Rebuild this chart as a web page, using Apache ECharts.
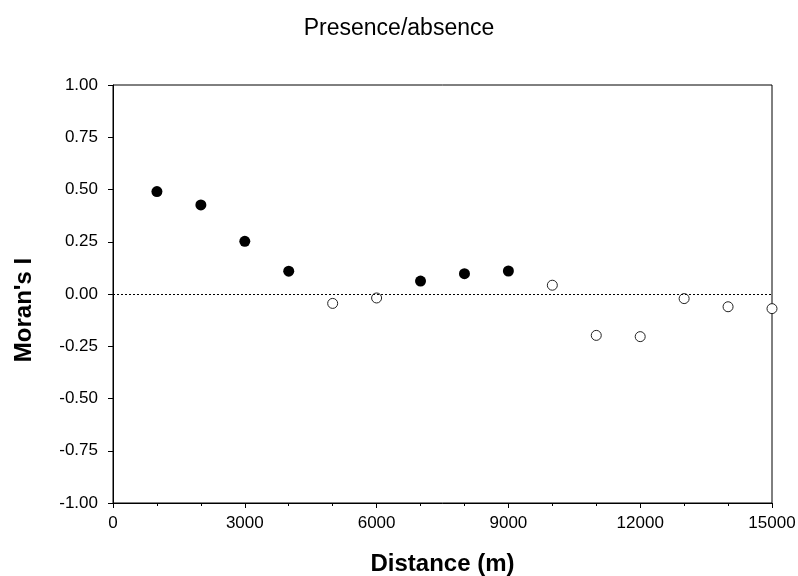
<!DOCTYPE html>
<html>
<head>
<meta charset="utf-8">
<script src="https://cdn.jsdelivr.net/npm/echarts@6/dist/echarts.min.js"></script>
<style>
  html, body { margin: 0; padding: 0; background: #fff; }
  #chart { width: 798px; height: 576px; }
</style>
</head>
<body>
<div id="chart"></div>
<script>
// 数据：距离 (m) 与 Moran's I
const distances = [1000, 2000, 3000, 4000, 5000, 6000, 7000, 8000, 9000, 10000, 11000, 12000, 13000, 14000, 15000];
const moranI = [0.490, 0.426, 0.252, 0.109, -0.045, -0.019, 0.062, 0.097, 0.110, 0.042, -0.198, -0.204, -0.022, -0.061, -0.070];
// true = 实心点（显著），false = 空心点
const significant = [true, true, true, true, false, false, true, true, true, false, false, false, false, false, false];
const xTicks = [0, 3000, 6000, 9000, 12000, 15000];
const yTicks = [-1, -0.75, -0.5, -0.25, 0, 0.25, 0.5, 0.75, 1];

const filledPts = [];
const openPts = [];
distances.forEach((d, i) => {
    (significant[i] ? filledPts : openPts).push([d, moranI[i]]);
});

const FONT = '"Liberation Sans", Arial, sans-serif';
const chart = echarts.init(document.getElementById('chart'), null, { renderer: 'canvas' });

chart.setOption({
    animation: false,
    backgroundColor: '#fff',
    title: {
        text: 'Presence/absence',
        left: 'center',
        top: 12,
        textStyle: { fontFamily: FONT, fontSize: 23, fontWeight: 'normal', color: '#000' }
    },
    grid: {
        left: 113, right: 26, top: 85, bottom: 73,
        show: true, borderColor: '#000', borderWidth: 1,
        outerBoundsMode: 'none'
    },
    xAxis: {
        type: 'value',
        min: xTicks[0],
        max: xTicks[xTicks.length - 1],
        interval: 3000,
        name: 'Distance (m)',
        nameLocation: 'middle',
        nameGap: 49,
        nameTextStyle: { fontFamily: FONT, fontSize: 24, fontWeight: 'bold', color: '#000' },
        axisLine: { show: true, onZero: false, lineStyle: { color: '#000', width: 1 } },
        axisTick: { show: true, length: 5, lineStyle: { color: '#000' } },
        minorTick: { show: true, splitNumber: 3, length: 3, lineStyle: { color: '#000' } },
        splitLine: { show: false },
        axisLabel: { fontFamily: FONT, fontSize: 17, color: '#000', margin: 12, formatter: v => String(v) }
    },
    yAxis: {
        type: 'value',
        min: yTicks[0],
        max: yTicks[yTicks.length - 1],
        interval: 0.25,
        axisLine: { show: true, onZero: false, lineStyle: { color: '#000', width: 1 } },
        axisTick: { show: true, length: 5, lineStyle: { color: '#000' } },
        splitLine: { show: false },
        axisLabel: {
            fontFamily: FONT, fontSize: 17, color: '#000', margin: 15,
            formatter: v => v.toFixed(2)
        }
    },
    graphic: [{
        type: 'text',
        x: 24, y: 310,
        rotation: Math.PI / 2,
        style: {
            text: "Moran's I",
            font: 'bold 24px "Liberation Sans", Arial, sans-serif',
            fill: '#000',
            align: 'center',
            verticalAlign: 'middle'
        }
    }],
    series: [
        {
            name: 'significant',
            type: 'scatter',
            data: filledPts,
            symbol: 'circle',
            symbolSize: 11,
            itemStyle: { color: '#000', opacity: 1 },
            z: 3
        },
        {
            name: 'not significant',
            type: 'scatter',
            data: openPts,
            symbol: 'circle',
            symbolSize: 10,
            itemStyle: { color: '#fff', borderColor: '#222', borderWidth: 1, opacity: 1 },
            z: 3,
            markLine: {
                silent: true,
                symbol: ['none', 'none'],
                label: { show: false },
                lineStyle: { type: [2, 2], color: '#000', width: 1 },
                data: [{ yAxis: 0 }]
            }
        }
    ]
});
</script>
</body>
</html>
